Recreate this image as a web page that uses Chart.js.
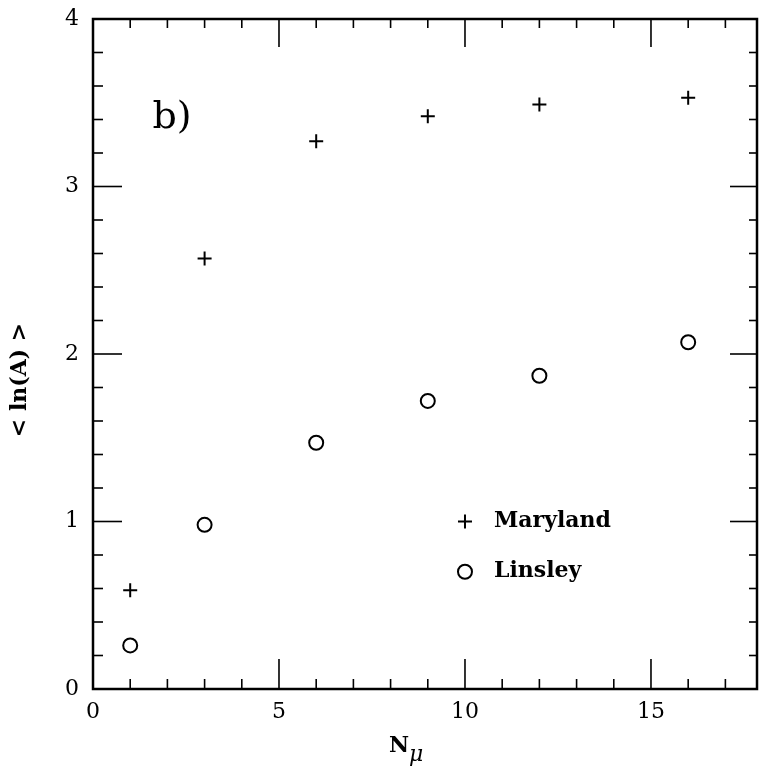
<!DOCTYPE html>
<html>
<head>
<meta charset="utf-8">
<script src="https://cdn.jsdelivr.net/npm/chart.js@4"></script>
<style>
  body { margin: 0; background: #fff; }
</style>
</head>
<body>
<canvas id="chart" width="759" height="771"></canvas>
<script>
// values
const nMu = [1, 3, 6, 9, 12, 16];
const maryland = [0.59, 2.57, 3.27, 3.42, 3.49, 3.53];
const linsley = [0.26, 0.98, 1.47, 1.72, 1.87, 2.07];
const xTickLabels = [0, 5, 10, 15];
const yTickLabels = [0, 1, 2, 3, 4];

const serif = '"DejaVu Serif", serif';

// legend + panel label placed in data units
const legendAt = { x: 10, y: [1.0, 0.70] };
const panelAt = { x: 1.6, y: 3.41 };

function pts(ys) {
    return nMu.map((x, i) => ({ x: x, y: ys[i] }));
}

function line(ctx, x1, y1, x2, y2) {
    ctx.beginPath();
    ctx.moveTo(x1, y1);
    ctx.lineTo(x2, y2);
    ctx.stroke();
}

// inward ticks on all four sides, frame, legend, labels
const framePlugin = {
    id: 'framePlugin',
    afterDraw(chart) {
        const { ctx, chartArea: a, scales: { x, y } } = chart;
        ctx.save();
        ctx.strokeStyle = '#000';
        ctx.lineWidth = 1.6;
        x.ticks.forEach(t => {
            const px = x.getPixelForValue(t.value);
            const major = xTickLabels.includes(t.value);
            line(ctx, px, a.bottom, px, a.bottom - (major ? 30 : 10));
            line(ctx, px, a.top, px, a.top + (major ? 28 : 9));
        });
        y.ticks.forEach(t => {
            const py = y.getPixelForValue(t.value);
            const major = Math.abs(t.value - Math.round(t.value)) < 1e-6;
            line(ctx, a.left, py, a.left + (major ? 29 : 10), py);
            line(ctx, a.right, py, a.right - (major ? 27 : 8), py);
        });
        ctx.lineWidth = 2.5;
        ctx.strokeRect(a.left, a.top, a.width, a.height);

        // legend
        const ds = chart.data.datasets;
        ctx.font = 'bold 22px ' + serif;
        ctx.textBaseline = 'middle';
        ctx.textAlign = 'left';
        ds.forEach((d, i) => {
            const lx = x.getPixelForValue(legendAt.x);
            const ly = y.getPixelForValue(legendAt.y[i]);
            ctx.fillStyle = 'rgba(0,0,0,0)';
            ctx.lineWidth = d.borderWidth;
            Chart.helpers.drawPoint(ctx, {
                pointStyle: d.pointStyle, radius: d.pointRadius,
                borderWidth: d.borderWidth, rotation: 0
            }, lx, ly);
            ctx.fillStyle = '#000';
            ctx.fillText(d.label, lx + 29, ly);
        });

        // panel label
        ctx.fillStyle = '#000';
        ctx.font = '38px ' + serif;
        ctx.fillText('b)', x.getPixelForValue(panelAt.x), y.getPixelForValue(panelAt.y));

        // x title N_mu
        const nx = a.left + 316;
        ctx.textBaseline = 'alphabetic';
        ctx.font = 'bold 22px ' + serif;
        ctx.textAlign = 'right';
        ctx.fillText('N', nx, a.bottom + 63);
        ctx.textAlign = 'left';
        ctx.font = 'italic 22px ' + serif;
        ctx.fillText('μ', nx, a.bottom + 72);

        // y title
        ctx.translate(a.left - 73, (a.top + a.bottom) / 2 + 26);
        ctx.rotate(-Math.PI / 2);
        ctx.textAlign = 'center';
        ctx.textBaseline = 'middle';
        ctx.font = 'bold 22px ' + serif;
        ctx.fillText('< ln(A) >', 0, 0);
        ctx.restore();
    }
};

new Chart(document.getElementById('chart'), {
    type: 'scatter',
    data: {
        datasets: [
            {
                label: 'Maryland', data: pts(maryland),
                pointStyle: 'cross', pointRadius: 7, borderWidth: 2,
                borderColor: '#000', backgroundColor: '#000'
            },
            {
                label: 'Linsley', data: pts(linsley),
                pointStyle: 'circle', pointRadius: 7, borderWidth: 2,
                borderColor: '#000', backgroundColor: 'rgba(0,0,0,0)'
            }
        ]
    },
    options: {
        responsive: false,
        animation: false,
        layout: { autoPadding: false, padding: { top: 19, right: 2, left: 0, bottom: 0 } },
        plugins: { legend: { display: false }, tooltip: { enabled: false } },
        scales: {
            x: {
                type: 'linear', min: 0, max: 17.85,
                grid: { display: false, drawTicks: false },
                border: { display: false },
                afterBuildTicks: s => { s.ticks = Array.from({ length: 18 }, (_, i) => ({ value: i })); },
                afterFit: s => { s.height = 82; s.paddingLeft = 0; s.paddingRight = 0; },
                ticks: {
                    autoSkip: false, maxRotation: 0, padding: 10, color: '#000',
                    font: { family: serif, size: 22 },
                    callback: v => xTickLabels.includes(v) ? String(v) : ''
                }
            },
            y: {
                type: 'linear', min: 0, max: 4,
                grid: { display: false, drawTicks: false },
                border: { display: false },
                afterBuildTicks: s => { s.ticks = Array.from({ length: 21 }, (_, i) => ({ value: i * 0.2 })); },
                afterFit: s => { s.width = 93; s.paddingTop = 0; s.paddingBottom = 0; },
                ticks: {
                    autoSkip: false, padding: 14, color: '#000',
                    font: { family: serif, size: 22 },
                    callback: v => {
                        const r = Math.round(v);
                        return Math.abs(v - r) < 1e-6 && yTickLabels.includes(r) ? String(r) : '';
                    }
                }
            }
        }
    },
    plugins: [framePlugin]
});
</script>
</body>
</html>
